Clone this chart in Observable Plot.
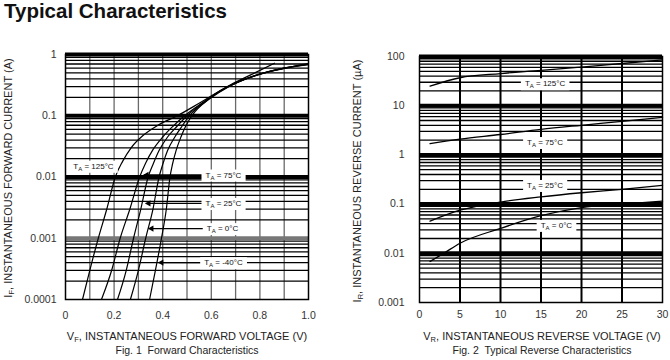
<!DOCTYPE html>
<html>
<head>
<meta charset="utf-8">
<script src="https://cdn.jsdelivr.net/npm/d3@7"></script>
<script src="https://cdn.jsdelivr.net/npm/@observablehq/plot@0.6"></script>
<style>
  body { margin: 0; background: #fff; }
  #wrap { position: relative; width: 670px; height: 360px; background: #fff; overflow: hidden;
          font-family: 'Liberation Sans', Arial, sans-serif; color: #222; }
  .abs { position: absolute; white-space: nowrap; }
  .title { left: 4px; top: -1px; font-size: 20.5px; font-weight: bold; line-height: 24px; color: #111; }
  .xt { font-size: 11px; line-height: 13px; text-align: center; width: 300px; }
  .cap { font-size: 10.5px; line-height: 12px; text-align: center; width: 300px; }
  .yt { font-size: 11px; line-height: 13px; text-align: center; width: 260px; transform: rotate(-90deg); transform-origin: center center; }
  sub { font-size: 7.5px; vertical-align: -2px; }
</style>
</head>
<body>
<div id="wrap">
  <div class="abs title">Typical Characteristics</div>
  <div id="left" class="abs" style="left:0;top:0"></div>
  <div id="right" class="abs" style="left:335px;top:0"></div>
  <div class="abs yt" style="left:-120px;top:170px">I<sub>F</sub>, INSTANTANEOUS FORWARD CURRENT (A)</div>
  <div class="abs yt" style="left:229px;top:173px">I<sub>R</sub>, INSTANTANEOUS REVERSE CURRENT (µA)</div>
  <div class="abs xt" style="left:37px;top:330px">V<sub>F</sub>, INSTANTANEOUS FORWARD VOLTAGE (V)</div>
  <div class="abs cap" style="left:37px;top:344px">Fig. 1&nbsp; Forward Characteristics</div>
  <div class="abs xt" style="left:392px;top:330px">V<sub>R</sub>, INSTANTANEOUS REVERSE VOLTAGE (V)</div>
  <div class="abs cap" style="left:392px;top:344px">Fig. 2&nbsp; Typical Reverse Characteristics</div>
</div>
<script>
// ---------- Fig. 1 data: forward voltage (V) vs forward current (A) ----------
const fwd125 = [[0.07,1e-4],[0.10,3e-4],[0.135,1e-3],[0.17,3e-3],[0.205,0.01],[0.235,0.018],[0.27,0.03],[0.32,0.048],[0.38,0.07],[0.46,0.1],[0.55,0.16],[0.64,0.26],[0.72,0.37],[0.80,0.48],[0.90,0.59],[1.0,0.68]];
const fwd75  = [[0.148,1e-4],[0.19,3e-4],[0.225,1e-3],[0.265,3e-3],[0.305,0.01],[0.33,0.017],[0.36,0.028],[0.40,0.045],[0.44,0.066],[0.49,0.1],[0.57,0.17],[0.65,0.275],[0.73,0.385],[0.81,0.49],[0.90,0.60],[1.0,0.69]];
const fwd25  = [[0.214,1e-4],[0.25,3e-4],[0.28,1e-3],[0.31,3e-3],[0.34,0.01],[0.36,0.016],[0.385,0.027],[0.42,0.045],[0.46,0.068],[0.50,0.1],[0.58,0.18],[0.66,0.285],[0.74,0.395],[0.82,0.50],[0.91,0.61],[1.0,0.70]];
const fwd0   = [[0.267,1e-4],[0.30,3e-4],[0.33,1e-3],[0.36,3e-3],[0.385,0.01],[0.40,0.016],[0.42,0.027],[0.45,0.045],[0.48,0.068],[0.51,0.1],[0.59,0.185],[0.67,0.295],[0.75,0.41],[0.83,0.52],[0.92,0.62],[1.0,0.71]];
const fwdM40 = [[0.346,1e-4],[0.37,3e-4],[0.395,1e-3],[0.415,3e-3],[0.43,0.01],[0.44,0.016],[0.455,0.027],[0.475,0.045],[0.495,0.068],[0.52,0.1],[0.60,0.2],[0.68,0.32],[0.76,0.46],[0.86,0.72]];
const fwdSeries = [["125",fwd125],["75",fwd75],["25",fwd25],["0",fwd0],["-40",fwdM40]];

const fwdLabelText = ["T_A = 125°C","T_A = 75°C","T_A = 25°C","T_A = 0°C","T_A = -40°C"];
const fwdLabelV    = [0.115, 0.65, 0.65, 0.646, 0.65];
const fwdLabelI    = [0.015, 0.0108, 0.0037, 0.00144, 0.0004];
const fwdArrowFrom = [0.60, 0.60, 0.60, 0.60];
const fwdArrowTo   = [0.322, 0.33, 0.342, 0.383];
const fwdArrowI    = [0.0108, 0.0037, 0.00144, 0.0004];

const fwdYTicks = [1, 0.1, 0.01, 0.001, 0.0001];
const fwdYLabels = ["1","0.1","0.01","0.001","0.0001"];
const fwdXTicks = [0, 0.2, 0.4, 0.6, 0.8, 1.0];
const fwdXLabels = ["0","0.2","0.4","0.6","0.8","1.0"];
const fwdXGrid = [0.1,0.2,0.3,0.4,0.5,0.6,0.7,0.8,0.9];

// ---------- Fig. 2 data: reverse voltage (V) vs reverse current (µA) ----------
const rev125 = [[1.3,25],[5,37],[10,45],[15,52],[20,61],[25,72],[30,85]];
const rev75  = [[1.3,1.7],[5,2.1],[10,2.6],[15,3.3],[20,4.0],[25,4.8],[30,5.8]];
const rev25  = [[1.3,0.045],[5,0.075],[10,0.11],[15,0.14],[20,0.17],[25,0.2],[30,0.24]];
const rev0   = [[1.3,0.0068],[3,0.01],[5,0.016],[10,0.032],[15,0.058],[20,0.085],[25,0.1],[30,0.115]];
const revSeries = [["125",rev125],["75",rev75],["25",rev25],["0",rev0]];

const revLabelText = ["T_A = 125°C","T_A = 75°C","T_A = 25°C","T_A = 0°C"];
const revLabelV    = [15.5, 15.5, 15.5, 16.9];
const revLabelI    = [28, 1.79, 0.24, 0.037];

const revYTicks = [100, 10, 1, 0.1, 0.01, 0.001];
const revYLabels = ["100","10","1","0.1","0.01","0.001"];
const revXTicks = [0,5,10,15,20,25,30];
const revXLabels = ["0","5","10","15","20","25","30"];
const revXGrid = [5,10,15,20,25];

// ---------- helpers ----------
const FONT = "'Liberation Sans', Arial, sans-serif";
function minorLines(lo, hi) {
  const out = [];
  for (let d = lo; d < hi * 0.999; d *= 10) for (let k = 2; k <= 9; k++) out.push(d * k);
  return out;
}
function decadeLines(lo, hi) {
  const out = [];
  for (let d = lo * 10; d <= hi * 1.001; d *= 10) out.push(d);
  return out;
}
function flat(series) {
  return series.flatMap(([t, pts]) => pts.map(([v, i]) => ({t, v, i})));
}
function lookup(ticks, labels) {
  const m = new Map(ticks.map((t, k) => [t, labels[k]]));
  return d => m.get(d) ?? "";
}
function fixLabels(svg) {
  svg.querySelectorAll("text").forEach(t => {
    const s = t.textContent;
    if (!s.startsWith("T_A")) return;
    const ns = "http://www.w3.org/2000/svg";
    t.textContent = "";
    const a = document.createElementNS(ns, "tspan"); a.textContent = "T";
    const b = document.createElementNS(ns, "tspan"); b.textContent = "A";
    b.setAttribute("font-size", "6"); b.setAttribute("dy", "2");
    const c = document.createElementNS(ns, "tspan"); c.textContent = s.slice(3);
    c.setAttribute("dy", "-2");
    t.append(a, b, c);
    const bb = t.getBBox();
    const r = document.createElementNS(ns, "rect");
    r.setAttribute("x", bb.x - 4); r.setAttribute("y", bb.y - 1);
    r.setAttribute("width", bb.width + 8); r.setAttribute("height", bb.height + 2);
    r.setAttribute("fill", "#fff");
    if (t.getAttribute("transform")) r.setAttribute("transform", t.getAttribute("transform"));
    t.parentNode.insertBefore(r, t);
  });
}

// ---------- Fig. 1 ----------
const fwdData = flat(fwdSeries);
const fwdLabels = fwdLabelText.map((t, k) => ({t, v: fwdLabelV[k], i: fwdLabelI[k]}));
const fwdArrows = fwdArrowFrom.map((v1, k) => ({v1, v2: fwdArrowTo[k], i: fwdArrowI[k]}));

const left = Plot.plot({
  width: 335, height: 360,
  marginLeft: 65, marginRight: 27, marginTop: 54, marginBottom: 61,
  x: {domain: [0, 1]},
  y: {type: "log", domain: [1e-4, 1]},
  style: {fontFamily: FONT, fontSize: "10.5px", color: "#333", background: "transparent", overflow: "visible"},
  marks: [
    Plot.ruleX(fwdXGrid, {stroke: "#6a6a6a", strokeWidth: 1.3}),
    Plot.ruleY(minorLines(1e-4, 1), {stroke: "#000", strokeWidth: 1.3}),
    Plot.ruleY(decadeLines(1e-4, 1), {stroke: d => d === 0.001 ? "#777" : "#000", strokeWidth: 4}),
    Plot.frame({stroke: "#000", strokeWidth: 1.5}),
    Plot.line(fwdData, {x: "v", y: "i", z: "t", curve: "monotone-x", stroke: "#000", strokeWidth: 1.2}),
    Plot.link(fwdArrows, {x1: "v1", x2: "v2", y1: "i", y2: "i", stroke: "#000", strokeWidth: 1.2}),
    Plot.dot(fwdArrows, {x: "v2", y: "i", symbol: "triangle2", r: 3, rotate: -90, fill: "#000", dx: 3}),
    Plot.text(fwdLabels, {x: "v", y: "i", text: "t", fontSize: 8, fill: "#111"}),
    Plot.axisY({ticks: fwdYTicks, tickFormat: lookup(fwdYTicks, fwdYLabels), tickSize: 0, tickPadding: 9, label: null}),
    Plot.axisX({ticks: fwdXTicks, tickFormat: lookup(fwdXTicks, fwdXLabels), tickSize: 0, tickPadding: 12, label: null})
  ]
});
document.getElementById("left").append(left);
fixLabels(left);

// ---------- Fig. 2 ----------
const revData = flat(revSeries);
const revLabels = revLabelText.map((t, k) => ({t, v: revLabelV[k], i: revLabelI[k]}));

const right = Plot.plot({
  width: 335, height: 360,
  marginLeft: 84, marginRight: 8, marginTop: 56, marginBottom: 58,
  x: {domain: [0, 30]},
  y: {type: "log", domain: [0.001, 100]},
  style: {fontFamily: FONT, fontSize: "10.5px", color: "#333", background: "transparent", overflow: "visible"},
  marks: [
    Plot.ruleY(minorLines(0.001, 100), {stroke: "#000", strokeWidth: 1.3}),
    Plot.ruleY(decadeLines(0.001, 100), {stroke: "#000", strokeWidth: 4}),
    Plot.ruleX(revXGrid, {stroke: "#000", strokeWidth: 2}),
    Plot.frame({stroke: "#000", strokeWidth: 1.5}),
    Plot.line(revData, {x: "v", y: "i", z: "t", curve: "monotone-x", stroke: "#000", strokeWidth: 1.3}),
    Plot.text(revLabels, {x: "v", y: "i", text: "t", fontSize: 8, fill: "#111"}),
    Plot.axisY({ticks: revYTicks, tickFormat: lookup(revYTicks, revYLabels), tickSize: 0, tickPadding: 15, label: null}),
    Plot.axisX({ticks: revXTicks, tickFormat: lookup(revXTicks, revXLabels), tickSize: 0, tickPadding: 8, label: null})
  ]
});
document.getElementById("right").append(right);
fixLabels(right);
</script>
</body>
</html>
